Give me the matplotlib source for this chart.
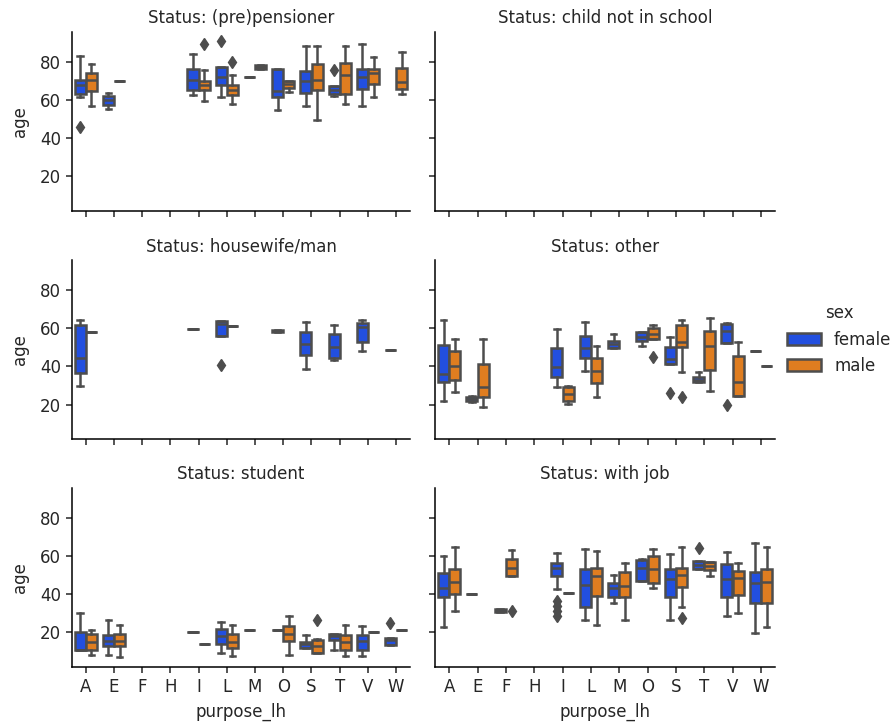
import colorsys
import matplotlib
matplotlib.use("Agg")
import matplotlib.pyplot as plt
import matplotlib.colors as mcolors
from matplotlib.patches import Patch

CATEGORIES = ["A", "E", "F", "H", "I", "L", "M", "O", "S", "T", "V", "W"]
SEXES = ["female", "male"]
STATUSES = ["(pre)pensioner", "child not in school", "housewife/man",
            "other", "student", "with job"]

# box summaries: (lower whisker, Q1, median, Q3, upper whisker); None = no data
PENSIONER_FEMALE = [(61.6, 63.3, 68, 70.7, 83), (55.5, 57.5, 60, 62, 63.5), None, None,
                    (62.5, 65.4, 70.7, 76, 83.9), (61.6, 67.7, 71.8, 77.4, 77.4),
                    (71.8, 71.8, 71.8, 71.8, 71.8), (54.9, 61.6, 64.6, 76.5, 76.5),
                    (56.8, 63.9, 69.8, 75.3, 88.4), (62, 63, 65.1, 67.4, 67.4),
                    (56.8, 66, 71.8, 76.5, 89.3), None]
PENSIONER_MALE = [(56.8, 64.7, 70.4, 74.4, 79.1), (70, 70, 70, 70, 70), None, None,
                  (59.5, 65.4, 67.7, 70, 75.6), (57.7, 62.5, 65.1, 68, 73),
                  (76.2, 76.5, 77.4, 78.2, 78.4), (64.2, 66.5, 68.6, 69.8, 69.8),
                  (49.3, 65.4, 70.7, 79.1, 88.4), (57.7, 63.3, 73, 79.6, 88.4),
                  (61.6, 68.2, 74.4, 76.5, 82.6), (63.3, 65.6, 69.5, 77, 85.3)]
PENSIONER_FEMALE_OUT = {"A": [46], "L": [91], "T": [75.6]}
PENSIONER_MALE_OUT = {"I": [89.3], "L": [80]}

CHILD_FEMALE = [None] * 12
CHILD_MALE = [None] * 12
CHILD_FEMALE_OUT = {}
CHILD_MALE_OUT = {}

HOUSE_FEMALE = [(29.6, 36.6, 44.4, 61.9, 64.3), None, None, None,
                (59.6, 59.6, 59.6, 59.6, 59.6), (56.1, 56.1, 62.5, 64, 64), None,
                (58, 58, 58.5, 59, 59), (38.7, 46.2, 51.7, 58.2, 63.4),
                (43.4, 44.4, 50.4, 57, 61.7), (47.9, 53, 60.8, 62.6, 64.3),
                (48.8, 48.8, 48.8, 48.8, 48.8)]
HOUSE_MALE = [(58.2, 58.2, 58.2, 58.2, 58.2), None, None, None, None,
              (61.3, 61.3, 61.3, 61.3, 61.3), None, None, None, None, None, None]
HOUSE_FEMALE_OUT = {"L": [40.8]}
HOUSE_MALE_OUT = {}

OTHER_FEMALE = [(22.1, 31.7, 36, 51.2, 64.3), (21.5, 22, 23, 24, 24.5), None, None,
                (29.4, 34.3, 39.6, 49.7, 59.6), (37.8, 44.2, 49.5, 56.1, 63.1),
                (49.5, 49.5, 51.7, 53.5, 57), (50.9, 53.1, 55.6, 58.2, 58.2),
                (41.3, 41.3, 43.9, 50, 55.3), (31.7, 31.7, 32.9, 34.3, 36.9),
                (52.1, 52.1, 58.7, 62.2, 62.6), (47.9, 47.9, 47.9, 47.9, 47.9)]
OTHER_MALE = [(26.8, 32.9, 40.4, 48.3, 54.4), (18.6, 23.8, 29.1, 41.3, 54.4), None, None,
              (20.5, 21.7, 25.4, 29.1, 29.5), (24.2, 31.2, 37.8, 44.2, 50.9), None,
              (54.4, 54.4, 57, 60.1, 61.7), (36.9, 50, 52.6, 61.9, 64.3),
              (27, 38.1, 50.5, 58.7, 65.4), (24.4, 24.4, 31.7, 45.6, 52.6),
              (40.4, 40.4, 40.4, 40.4, 40.4)]
OTHER_FEMALE_OUT = {"S": [26.1], "V": [20]}
OTHER_MALE_OUT = {"O": [45.1], "S": [23.8]}

STUDENT_FEMALE = [(10.4, 10.4, 10.5, 19.8, 29.9), (8.2, 12.5, 15.1, 18.6, 26.4), None, None,
                  (19.8, 19.8, 19.8, 19.8, 19.8), (9, 13.7, 17.7, 21.7, 25.2),
                  (20.9, 20.9, 20.9, 20.9, 20.9), (20.9, 20.9, 20.9, 20.9, 20.9),
                  (11.7, 11.7, 13.9, 14.6, 18.6), (10.4, 16, 18, 19.1, 19.1),
                  (7.6, 10.8, 15.1, 18.6, 23), (13.4, 13.4, 16, 16.9, 16.9)]
STUDENT_MALE = [(8.2, 10.8, 14.8, 19.1, 20.9), (7, 12.5, 15.1, 19.1, 23.5), None, None,
                (13.7, 13.7, 13.7, 13.7, 13.7), (7.6, 11.7, 14.8, 19.1, 23.5), None,
                (7.8, 15.1, 19.1, 23, 28.2), (9, 9, 12.5, 15.7, 16.4),
                (7.6, 10.8, 14.6, 18.6, 23.5), (19.8, 19.8, 19.8, 19.8, 19.8),
                (20.9, 20.9, 20.9, 20.9, 20.9)]
STUDENT_FEMALE_OUT = {"W": [24.7]}
STUDENT_MALE_OUT = {"S": [26.4]}

JOB_FEMALE = [(22.6, 38.3, 43, 51.1, 59.8), (40, 40, 40, 40, 40), (30.5, 30.5, 31, 32, 32),
              None, (42.4, 49.4, 53.4, 56, 61.7), (26.4, 33.4, 44.7, 52.9, 63.5),
              (35.1, 38.6, 43, 45.6, 49.9), (46.8, 46.8, 53.4, 57.7, 58.3),
              (26.1, 38.6, 47.8, 52.9, 60.9), (52.9, 52.9, 55.1, 57.2, 57.2),
              (28.2, 38.6, 47.7, 55.5, 62.1), (19.5, 35.1, 45.9, 51.7, 66.8)]
JOB_MALE = [(30.8, 39.8, 46.1, 52.9, 64.7), None, (49.4, 49.4, 53.7, 58.1, 63), None,
            (40.7, 40.7, 40.7, 40.7, 40.7), (23.5, 39, 49.4, 53.4, 62.6),
            (26.4, 38.3, 44.2, 51.7, 56.3), (43, 45.6, 52.9, 59.8, 63.5),
            (33.4, 43.5, 49.9, 53.4, 64.7), (49.4, 52.5, 54.6, 56.9, 56.9),
            (29.9, 39.5, 48.2, 52.2, 56.3), (22.6, 35.1, 46.1, 52.9, 64.7)]
JOB_FEMALE_OUT = {"I": [28.5, 31.3, 33.7, 36.5], "T": [64.2]}
JOB_MALE_OUT = {"F": [31], "S": [27.3]}

PANELS = [
    (PENSIONER_FEMALE, PENSIONER_MALE, PENSIONER_FEMALE_OUT, PENSIONER_MALE_OUT),
    (CHILD_FEMALE, CHILD_MALE, CHILD_FEMALE_OUT, CHILD_MALE_OUT),
    (HOUSE_FEMALE, HOUSE_MALE, HOUSE_FEMALE_OUT, HOUSE_MALE_OUT),
    (OTHER_FEMALE, OTHER_MALE, OTHER_FEMALE_OUT, OTHER_MALE_OUT),
    (STUDENT_FEMALE, STUDENT_MALE, STUDENT_FEMALE_OUT, STUDENT_MALE_OUT),
    (JOB_FEMALE, JOB_MALE, JOB_FEMALE_OUT, JOB_MALE_OUT),
]


def desaturate(c, prop):
    h, l, s = colorsys.rgb_to_hls(*mcolors.to_rgb(c))
    return colorsys.hls_to_rgb(h, l, s * prop)


BASE = ["#023eff", "#ff7c00"]
COLORS = [desaturate(c, 0.75) for c in BASE]
lum = min(colorsys.rgb_to_hls(*c)[1] for c in COLORS) * 0.6
GRAY = (lum, lum, lum)
LW = 1.8
FS = 12

plt.rcParams["font.family"] = "DejaVu Sans"
plt.rcParams["font.size"] = FS
plt.rcParams["axes.linewidth"] = 1.1
plt.rcParams["xtick.major.width"] = 1.1
plt.rcParams["ytick.major.width"] = 1.1
plt.rcParams["xtick.major.size"] = 4.3
plt.rcParams["ytick.major.size"] = 4.3
plt.rcParams["text.color"] = "#262626"
plt.rcParams["axes.labelcolor"] = "#262626"
plt.rcParams["xtick.color"] = "#262626"
plt.rcParams["ytick.color"] = "#262626"

fig = plt.figure(figsize=(8.96, 7.23), dpi=100)
W, H = 896, 723
col_x = [71.7, 435.0]
col_w = [338.5, 340.0]
row_top = [31.7, 260.0, 487.5]
row_h = 179.5

axes = []
for i, status in enumerate(STATUSES):
    r, c = divmod(i, 2)
    ax = fig.add_axes([col_x[c] / W, 1 - (row_top[r] + row_h) / H,
                       col_w[c] / W, row_h / H])
    axes.append(ax)
    fem, mal, fem_out, mal_out = PANELS[i]
    for s_idx, (series, outs) in enumerate([(fem, fem_out), (mal, mal_out)]):
        stats, pos = [], []
        for k, cat in enumerate(CATEGORIES):
            v = series[k]
            if v is None:
                continue
            stats.append(dict(whislo=v[0], q1=v[1], med=v[2], q3=v[3], whishi=v[4],
                              fliers=outs.get(cat, [])))
            pos.append(k + (-0.2 if s_idx == 0 else 0.2))
        if stats:
            ax.bxp(stats, positions=pos, widths=0.4 * 0.98, patch_artist=True,
                   manage_ticks=False,
                   boxprops=dict(facecolor=COLORS[s_idx], edgecolor=GRAY, linewidth=LW),
                   medianprops=dict(color=GRAY, linewidth=LW),
                   whiskerprops=dict(color=GRAY, linewidth=LW),
                   capprops=dict(color=GRAY, linewidth=LW),
                   flierprops=dict(marker="d", markersize=6, markerfacecolor=GRAY,
                                   markeredgecolor=GRAY, linestyle="none"))
    ax.set_xlim(-0.5, len(CATEGORIES) - 0.5)
    ax.set_ylim(1.7, 95.8)
    ax.set_xticks(range(len(CATEGORIES)))
    ax.set_yticks([20, 40, 60, 80])
    ax.spines["top"].set_visible(False)
    ax.spines["right"].set_visible(False)
    ax.set_title("Status: " + status, fontsize=FS)
    if r == 2:
        ax.set_xticklabels(CATEGORIES, fontsize=FS)
        ax.set_xlabel("purpose_lh", fontsize=FS, labelpad=5)
    else:
        ax.set_xticklabels([])
    if c == 0:
        ax.set_ylabel("age", fontsize=FS, labelpad=8)
    else:
        ax.set_yticklabels([])

handles = [Patch(facecolor=COLORS[i], edgecolor=GRAY, linewidth=LW, label=s)
           for i, s in enumerate(SEXES)]
fig.legend(handles=handles, title="sex", loc="center left",
           bbox_to_anchor=(0.862, 0.53), frameon=False, fontsize=FS,
           title_fontsize=FS, handlelength=2.0)

fig.savefig("out.png", dpi=100)
